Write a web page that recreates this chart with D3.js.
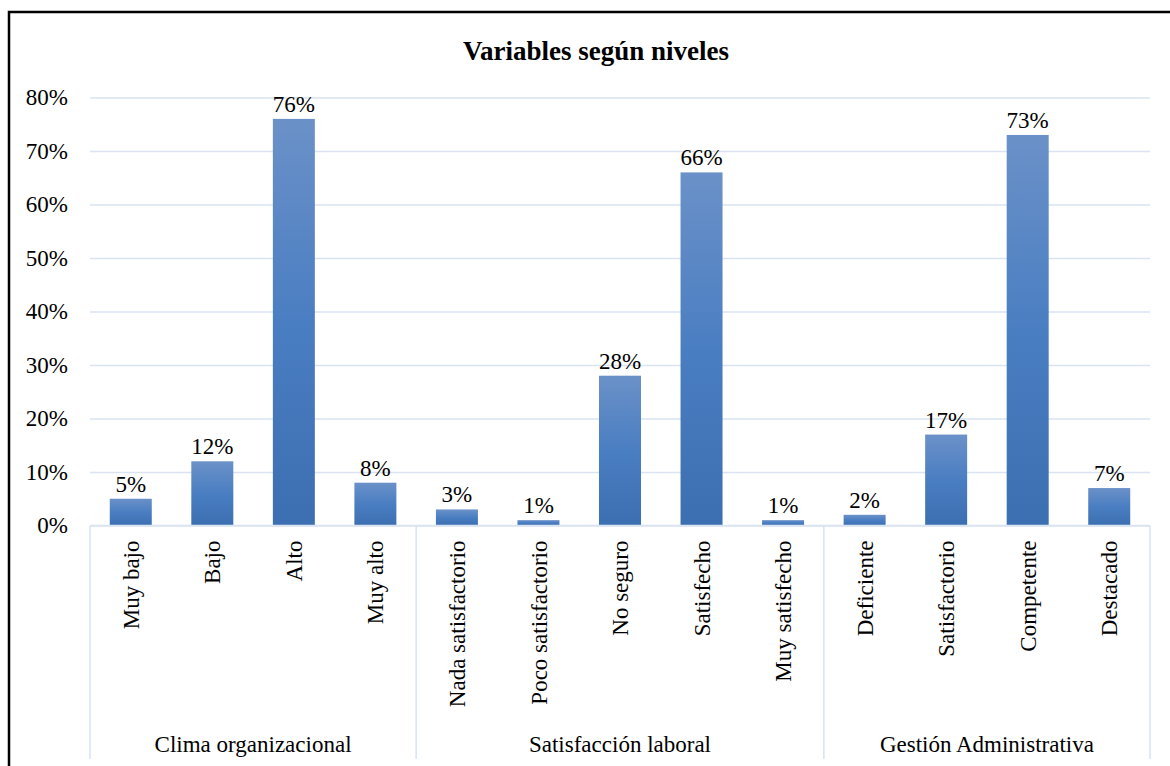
<!DOCTYPE html>
<html>
<head>
<meta charset="utf-8">
<script src="https://cdn.jsdelivr.net/npm/d3@7"></script>
<style>
  body { margin: 0; background: #fff; }
  svg { display: block; }
  svg text { font-family: 'Liberation Serif', 'Times New Roman', serif; fill: #000; }
</style>
</head>
<body>
<svg></svg>
<script>
// data
var groups = ["Clima organizacional", "Satisfacción laboral", "Gestión Administrativa"];
var groupSizes = [4, 5, 4];
var categories = ["Muy bajo", "Bajo", "Alto", "Muy alto",
                  "Nada satisfactorio", "Poco satisfactorio", "No seguro", "Satisfecho", "Muy satisfecho",
                  "Deficiente", "Satisfactorio", "Competente", "Destacado"];
var values = [5, 12, 76, 8, 3, 1, 28, 66, 1, 2, 17, 73, 7];
var yTicks = [0, 10, 20, 30, 40, 50, 60, 70, 80];

var width = 1170, height = 766;
var plotLeft = 90, plotRight = 1150, plotTop = 97.5, plotBottom = 525.5;
var gridColor = "#d9e3f2";
var fontSize = "23px";

var svg = d3.select("svg")
    .attr("width", width)
    .attr("height", height);

// chart border
svg.append("rect")
    .attr("x", 9)
    .attr("y", 12)
    .attr("width", 1175)
    .attr("height", 770)
    .attr("fill", "none")
    .attr("stroke", "#000")
    .attr("stroke-width", 2.5);

// gradient for bars
var grad = svg.append("defs").append("linearGradient")
    .attr("id", "barGrad")
    .attr("x1", 0).attr("y1", 0).attr("x2", 0).attr("y2", 1);
grad.append("stop").attr("offset", "0%").attr("stop-color", "#6b91c8");
grad.append("stop").attr("offset", "50%").attr("stop-color", "#4a7ec2");
grad.append("stop").attr("offset", "100%").attr("stop-color", "#3b6fb1");

var idx = d3.range(categories.length);

var xScale = d3.scaleBand()
    .domain(idx)
    .range([plotLeft, plotRight])
    .paddingInner(0.485)
    .paddingOuter(0.2425);

var yScale = d3.scaleLinear()
    .domain([0, 80])
    .range([plotBottom, plotTop]);

// y axis with gridlines
var yAxis = d3.axisLeft(yScale)
    .tickValues(yTicks)
    .tickFormat(d => d + "%")
    .tickSize(-(plotRight - plotLeft))
    .tickPadding(22);

var gy = svg.append("g")
    .attr("transform", `translate(${plotLeft}, 0)`)
    .call(yAxis)
    .attr("font-family", null)
    .attr("font-size", null);
gy.select(".domain").remove();
gy.selectAll(".tick line")
    .attr("stroke", gridColor)
    .attr("stroke-width", 1.5);
gy.selectAll(".tick text")
    .style("font-size", fontSize);

// bars
svg.selectAll("rect.bar")
    .data(values)
    .enter()
    .append("rect")
        .attr("class", "bar")
        .attr("x", (d, i) => xScale(i))
        .attr("y", d => yScale(d))
        .attr("width", xScale.bandwidth())
        .attr("height", d => plotBottom - yScale(d))
        .attr("fill", "url(#barGrad)");

// data labels
svg.selectAll("text.lbl")
    .data(values)
    .enter()
    .append("text")
        .attr("class", "lbl")
        .attr("x", (d, i) => xScale(i) + xScale.bandwidth() / 2)
        .attr("y", d => yScale(d) - 7)
        .style("text-anchor", "middle")
        .style("font-size", fontSize)
        .text(d => d + "%");

// category axis line
svg.append("line")
    .attr("x1", plotLeft).attr("x2", plotRight)
    .attr("y1", plotBottom).attr("y2", plotBottom)
    .attr("stroke", gridColor)
    .attr("stroke-width", 1.5);

// category labels (rotated)
var xAxis = d3.axisBottom(xScale)
    .tickSize(0)
    .tickFormat(i => categories[i]);
var gx = svg.append("g")
    .attr("transform", `translate(0, ${plotBottom})`)
    .call(xAxis)
    .attr("font-family", null)
    .attr("font-size", null);
gx.select(".domain").remove();
gx.selectAll(".tick text")
    .style("font-size", fontSize)
    .attr("transform", "rotate(-90)")
    .attr("x", -15)
    .attr("y", 0)
    .attr("dy", "0.35em")
    .style("text-anchor", "end");

// group separators + labels
var half = (xScale.step() - xScale.bandwidth()) / 2;
var start = 0;
var bounds = [xScale(0) - half];
groups.forEach(function(g, k) {
    var end = start + groupSizes[k] - 1;
    var x0 = xScale(start) - half;
    var x1 = xScale(end) + xScale.bandwidth() + half;
    bounds.push(x1);
    svg.append("text")
        .attr("x", (x0 + x1) / 2)
        .attr("y", 752)
        .style("text-anchor", "middle")
        .style("font-size", fontSize)
        .text(g);
    start = end + 1;
});

svg.selectAll("line.sep")
    .data(bounds)
    .enter()
    .append("line")
        .attr("class", "sep")
        .attr("x1", d => d).attr("x2", d => d)
        .attr("y1", plotBottom).attr("y2", 759)
        .attr("stroke", gridColor)
        .attr("stroke-width", 1.5);

// title
svg.append("text")
    .attr("x", 596)
    .attr("y", 60)
    .style("text-anchor", "middle")
    .style("font-size", "27px")
    .style("font-weight", "bold")
    .text("Variables según niveles");
</script>
</body>
</html>
